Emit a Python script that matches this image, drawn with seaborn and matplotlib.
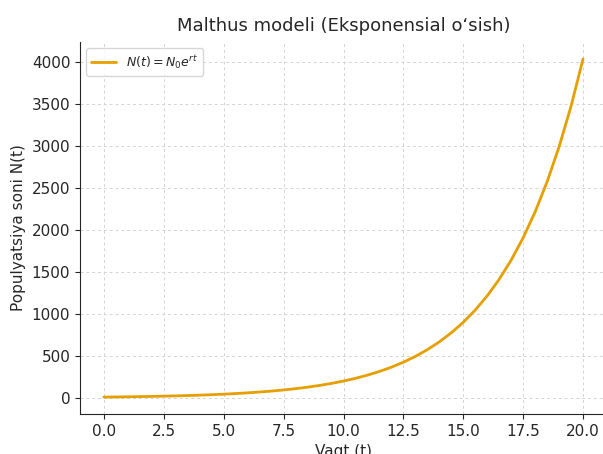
import seaborn as sns
import matplotlib.pyplot as plt
import pandas as pd

# values, every half step of t
t_values = [0.0, 0.5, 1.0, 1.5, 2.0, 2.5, 3.0, 3.5, 4.0, 4.5, 5.0,
            5.5, 6.0, 6.5, 7.0, 7.5, 8.0, 8.5, 9.0, 9.5, 10.0,
            10.5, 11.0, 11.5, 12.0, 12.5, 13.0, 13.5, 14.0, 14.5, 15.0,
            15.5, 16.0, 16.5, 17.0, 17.5, 18.0, 18.5, 19.0, 19.5, 20.0]
n_values = [10, 11.6, 13.5, 15.7, 18.2, 21.2, 24.6, 28.6, 33.2, 38.6, 44.8,
            52.1, 60.5, 70.3, 81.7, 94.9, 110.2, 128.1, 148.8, 172.9, 200.9,
            233.4, 271.1, 315.0, 366.0, 425.2, 494.0, 574.0, 666.9, 774.8, 900.2,
            1045.9, 1215.1, 1411.8, 1640.3, 1905.8, 2214.1, 2572.5, 2988.8, 3472.5, 4034.3]

df = pd.DataFrame({"t": t_values, "N": n_values})

sns.set_style("ticks")
plt.rcParams['font.family'] = ['DejaVu Sans']

fig = plt.figure(figsize=(6.03, 4.54), dpi=100)
ax = fig.add_axes([80 / 603, 40 / 454, 527 / 603, 372 / 454])

sns.lineplot(data=df, x="t", y="N", ax=ax, color="#E69F00", linewidth=2,
             label=r"$N(t) = N_0 e^{rt}$")

ax.grid(True, linestyle=(0, (3, 3)), color="#d4d4d4", linewidth=0.7)
ax.set_title("Malthus modeli (Eksponensial o\u2018sish)", fontsize=13, pad=8)
ax.set_xlabel("Vaqt (t)", fontsize=11)
ax.set_ylabel("Populyatsiya soni N(t)", fontsize=11)
ax.tick_params(labelsize=11)
ax.legend(loc="upper left", fontsize=9)
sns.despine(ax=ax)

fig.savefig("out.png", dpi=100)
